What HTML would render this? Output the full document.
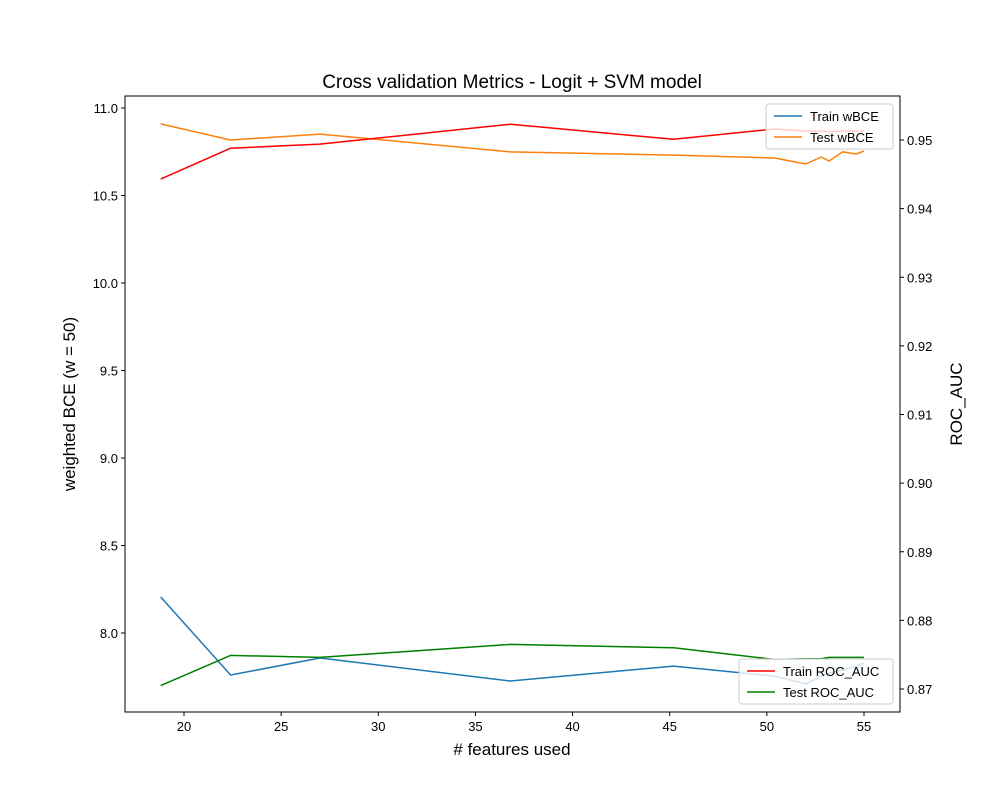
<!DOCTYPE html>
<html><head><meta charset="utf-8"><style>
body{margin:0;background:#fff;}
svg text{font-family:"Liberation Sans","DejaVu Sans",sans-serif;}
</style></head><body>
<svg id="chart" width="1000" height="800" xmlns="http://www.w3.org/2000/svg">
<rect width="1000" height="800" fill="#fff"/>
<g id="marks"></g>
<g id="axes"></g>
</svg>
<script>
const features = [18.8,22.4,27.0,36.8,45.2,50.4,52.0,52.8,53.2,53.9,54.6,55.0];
const trainWBCE = [8.206,7.76,7.857,7.726,7.811,7.754,7.709,7.754,7.771,7.789,7.811,7.829];
const testWBCE = [10.909,10.817,10.851,10.749,10.731,10.714,10.68,10.72,10.697,10.749,10.737,10.754];
const trainAUC = [0.9443,0.9488,0.9494,0.9523,0.9501,0.9516,0.9513,0.9513,0.9512,0.9513,0.9513,0.9513];
const testAUC = [0.8705,0.8749,0.8746,0.8765,0.876,0.8743,0.8744,0.8744,0.8746,0.8746,0.8746,0.8746];
const xTicks = [20,25,30,35,40,45,50,55];
const yLeftTicks = [8.0,8.5,9.0,9.5,10.0,10.5,11.0];
const yRightTicks = [0.87,0.88,0.89,0.90,0.91,0.92,0.93,0.94,0.95];

const L=125,R=900,T=96,B=712;
const x=v=>184+(v-20)*(680/35);
const yL=v=>633-(v-8)*175;
const yR=v=>140+(0.95-v)*6862.5;
const NS='http://www.w3.org/2000/svg';
const marks=document.getElementById('marks'), axes=document.getElementById('axes');
function mk(tag,attrs,parent){const e=document.createElementNS(NS,tag);for(const k in attrs)e.setAttribute(k,attrs[k]);parent.appendChild(e);return e;}
function line(vals,yf,color,name){
  const p=mk('polyline',{points:vals.map((v,i)=>x(features[i]).toFixed(1)+','+yf(v).toFixed(1)).join(' '),fill:'none',stroke:color,'stroke-width':1.5,'stroke-linejoin':'round'},marks);
  
  
}
line(trainWBCE,yL,'#1f77b4','train-wbce-line');
line(testWBCE,yL,'#ff7f0e','test-wbce-line');
line(trainAUC,yR,'#ff0000','train-roc-auc-line');
line(testAUC,yR,'#008000','test-roc-auc-line');

const frame=mk('rect',{x:L,y:T,width:R-L,height:B-T,fill:'none',stroke:'#000','stroke-width':1},axes);


xTicks.forEach(v=>{
  mk('line',{x1:x(v),x2:x(v),y1:B,y2:B+4,stroke:'#000'},axes);
  const t=mk('text',{x:x(v),y:B+19,'font-size':13,'text-anchor':'middle'},axes);t.textContent=v;
  
  
});
yLeftTicks.forEach(v=>{
  mk('line',{x1:L-4,x2:L,y1:yL(v),y2:yL(v),stroke:'#000'},axes);
  const t=mk('text',{x:L-7,y:yL(v)+5,'font-size':13,'text-anchor':'end'},axes);t.textContent=v.toFixed(1);
  
  
});
yRightTicks.forEach(v=>{
  mk('line',{x1:R,x2:R+4,y1:yR(v),y2:yR(v),stroke:'#000'},axes);
  const t=mk('text',{x:R+7,y:yR(v)+5,'font-size':13},axes);t.textContent=v.toFixed(2);
  
  
});
function legend(x0,y0,w,items,name){
  const g=mk('g',{},axes);
  
  
  mk('rect',{x:x0,y:y0,width:w,height:45,rx:3,fill:'rgba(255,255,255,0.8)',stroke:'#ccc'},g);
  items.forEach((it,i)=>{
    const yy=y0+12+i*21;
    mk('line',{x1:x0+8,x2:x0+36,y1:yy,y2:yy,stroke:it[1],'stroke-width':1.5},g);
    const t=mk('text',{x:x0+44,y:yy+5,'font-size':13},g);t.textContent=it[0];
    
    
  });
}
legend(766,104,127,[['Train wBCE','#1f77b4'],['Test wBCE','#ff7f0e']],'legend-wbce');
legend(739,659,154,[['Train ROC_AUC','#ff0000'],['Test ROC_AUC','#008000']],'legend-roc-auc');
</script>
<svg style="position:absolute;left:0;top:0" width="1000" height="800">
<text x="512" y="88" font-size="19" text-anchor="middle" font-family="Liberation Sans, sans-serif">Cross validation Metrics - Logit + SVM model</text>
<text x="512" y="755" font-size="17" text-anchor="middle" font-family="Liberation Sans, sans-serif"># features used</text>
<text transform="translate(75,404) rotate(-90)" font-size="17" text-anchor="middle" font-family="Liberation Sans, sans-serif">weighted BCE (w = 50)</text>
<text transform="translate(962,404) rotate(-90)" font-size="17" text-anchor="middle" font-family="Liberation Sans, sans-serif">ROC_AUC</text>
</svg>
</body></html>
